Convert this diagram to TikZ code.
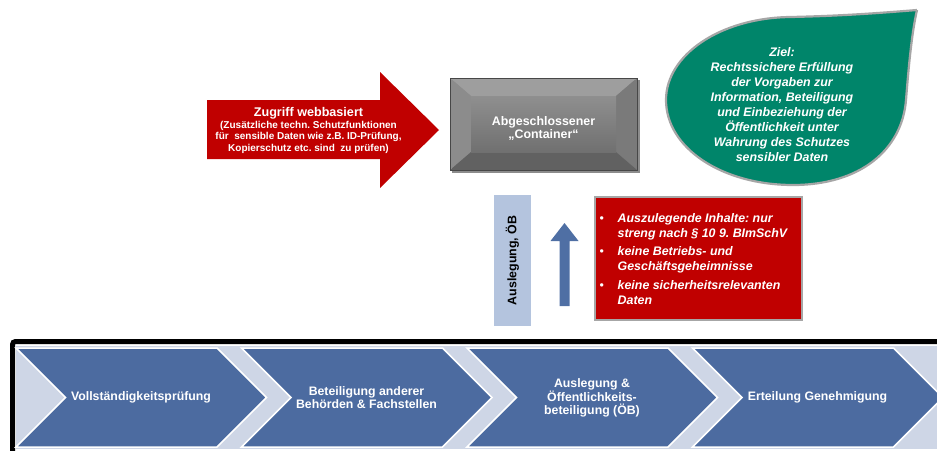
\documentclass[tikz,border=0pt]{standalone}
\usepackage{fontspec}
\setmainfont{Liberation Sans}
\definecolor{webred}{RGB}{192,0,0}
\definecolor{leafgreen}{RGB}{0,133,106}
\definecolor{stepblue}{RGB}{76,107,160}
\definecolor{bandblue}{RGB}{206,214,230}
\definecolor{barblue}{RGB}{180,196,222}
\definecolor{upblue}{RGB}{79,111,164}
\definecolor{rimgrey}{RGB}{166,166,166}

\begin{document}
\frenchspacing
\begin{tikzpicture}[x=1pt,y=-1pt,
  whitetext/.style={text=white,align=center,inner sep=0pt,
    font=\bfseries\fontsize{12.4}{13}\selectfont},
  goaltext/.style={text=white,align=center,inner sep=0pt,
    font=\bfseries\itshape\fontsize{12.4}{15}\selectfont},
  steptext/.style={text=white,align=center,inner sep=0pt,
    font=\bfseries\fontsize{12.3}{13}\selectfont},
  chevron/.style={fill=stepblue,draw=white,line width=1.5pt,line join=miter}]
\useasboundingbox (0,0) rectangle (937,450);
\clip (0,0) rectangle (937,450);

% ---- block arrow: web access
\fill[webred] (207,100) -- (380,100) -- (380,72) -- (439,130)
  -- (380,188) -- (380,159) -- (207,159) -- cycle;
\node[text=white,align=center,inner sep=0pt,
  font=\bfseries\fontsize{10}{11.7}\selectfont] (web) at (308.5,130.5)
  {{\fontsize{12.6}{11.7}\selectfont Zugriff webbasiert}\\
   (Zusätzliche techn. Schutzfunktionen\\
   für\ \ sensible Daten wie z.B. ID-Prüfung,\\
   Kopierschutz etc. sind\ \ zu prüfen)};

% ---- bevelled container
\fill[black!45] (452,80) rectangle (640,173);
\fill[black!38] (450,78) -- (637,78) -- (616,96) -- (471,96) -- cycle;
\fill[black!45] (450,78) -- (471,96) -- (471,152) -- (450,170) -- cycle;
\fill[black!52] (637,78) -- (637,170) -- (616,152) -- (616,96) -- cycle;
\fill[black!62] (450,170) -- (471,152) -- (616,152) -- (637,170) -- cycle;
\shade[top color=black!44,bottom color=black!56] (471,96) rectangle (616,152);
\draw[black!72,line width=0.8pt] (450,78) rectangle (637,170);
\node[whitetext] (container) at (543.5,128) {Abgeschlossener\\„Container“};

% ---- goal leaf
\filldraw[fill=leafgreen,draw=rimgrey,line width=2.2pt]
  (917,10) .. controls (880,13) and (840,16) .. (790,17)
  .. controls (720,18) and (666,55) .. (666,100)
  .. controls (666,148) and (722,185) .. (793,185)
  .. controls (860,185) and (902,150) .. (906,100)
  .. controls (909,62) and (912,32) .. (917,10);
\node[goaltext] (goal) at (782,104.5)
  {Ziel:\\Rechtssichere Erfüllung\\der Vorgaben zur\\Information, Beteiligung\\
   und Einbeziehung der\\Öffentlichkeit unter\\Wahrung des Schutzes\\sensibler Daten};

% ---- restrictions box
\node[draw=rimgrey,fill=webred,line width=1.6pt,inner sep=0pt,
  minimum width=207pt,minimum height=123pt] (rules) at (698.5,258.5) {};
\node[anchor=west,text=white,align=left,inner sep=0pt,
  font=\bfseries\itshape\fontsize{12.4}{15}\selectfont] (rulestext) at (599.5,259)
  {\makebox[18pt][l]{\upshape\mdseries •}Auszulegende Inhalte: nur\\
   \hspace*{18pt}streng nach § 10 9. BImSchV\\[3.5pt]
   \makebox[18pt][l]{\upshape\mdseries •}keine Betriebs- und\\
   \hspace*{18pt}Geschäftsgeheimnisse\\[3.5pt]
   \makebox[18pt][l]{\upshape\mdseries •}keine sicherheitsrelevanten\\
   \hspace*{18pt}Daten};

% ---- public display bar and upward arrow
\node[fill=barblue,inner sep=0pt,minimum width=37pt,minimum height=131pt]
  (bar) at (512.5,260.5) {};
\node[rotate=90,inner sep=0pt,font=\bfseries\fontsize{12.4}{13}\selectfont]
  (barlabel) at (bar.center) {Auslegung, ÖB};
\fill[upblue] (559.5,306) -- (559.5,241) -- (550.5,241) -- (564.5,223)
  -- (578.5,241) -- (569.5,241) -- (569.5,306) -- cycle;

% ---- process band
\draw[line width=5pt,rounded corners=3pt] (12.5,341.5) rectangle (990,520);
\fill[bandblue] (15.5,346) rectangle (990,448.5);
\foreach \s in {16,241.5,467,692.5}
  \filldraw[chevron] (\s,348) -- ++(201,0) -- ++(49.5,49.5) -- ++(-49.5,49.5)
    -- ++(-201,0) -- ++(49.5,-49.5) -- cycle;
\node[steptext] (s1) at (141,397.5) {Vollständigkeitsprüfung};
\node[steptext] (s2) at (366.5,397.5) {Beteiligung anderer\\Behörden \& Fachstellen};
\node[steptext] (s3) at (592,398) {Auslegung \&\\Öffentlichkeits-\\beteiligung (ÖB)};
\node[steptext] (s4) at (817.5,397.5) {Erteilung Genehmigung};
\end{tikzpicture}
\end{document}
